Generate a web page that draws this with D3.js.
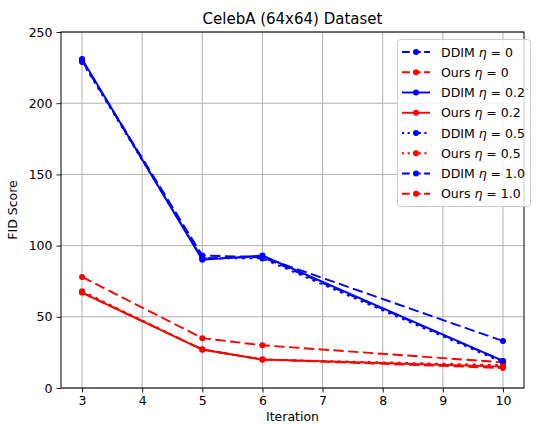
<!DOCTYPE html>
<html><head><meta charset="utf-8">
<script src="https://cdn.jsdelivr.net/npm/d3@7"></script>
<style>body{margin:0;background:#fff}svg{display:block}text{font-family:"DejaVu Sans",sans-serif;fill:#000}</style>
</head><body><svg id="c" width="536" height="426"></svg>
<script>
const iterations = [3, 5, 6, 10];
const ddimEta0   = [230, 93, 92, 33];
const oursEta0   = [78, 35, 30, 18];
const ddimEta02  = [231, 90, 93, 19];
const oursEta02  = [67, 27, 20, 15];
const ddimEta05  = [229, 91, 91, 18];
const oursEta05  = [68, 27, 20, 16];
const ddimEta10  = [230, 91, 92, 19];
const oursEta10  = [67, 27, 20, 14];
const xTicks = [3,4,5,6,7,8,9,10];
const yTicks = [0,50,100,150,200,250];

const series = [
  {name:"DDIM", eta:"0", vals:ddimEta0, color:"blue", dash:"5.5,2.4"},
  {name:"Ours", eta:"0", vals:oursEta0, color:"red", dash:"5.5,2.4"},
  {name:"DDIM", eta:"0.2", vals:ddimEta02, color:"blue", dash:null},
  {name:"Ours", eta:"0.2", vals:oursEta02, color:"red", dash:null},
  {name:"DDIM", eta:"0.5", vals:ddimEta05, color:"blue", dash:"1.5,2.5"},
  {name:"Ours", eta:"0.5", vals:oursEta05, color:"red", dash:"1.5,2.5"},
  {name:"DDIM", eta:"1.0", vals:ddimEta10, color:"blue", dash:"5.5,2.4"},
  {name:"Ours", eta:"1.0", vals:oursEta10, color:"red", dash:"5.5,2.4"}
];

const svg = d3.select("#c");
const L=61, R=524, T=32, B=388;
const x = d3.scaleLinear().domain([2.65,10.35]).range([L,R]);
const y = d3.scaleLinear().domain([0,250]).range([B,T]);

const g = svg.append("g");
g.selectAll(".gx").data(xTicks).enter().append("line")
  .attr("x1",d=>x(d)).attr("x2",d=>x(d)).attr("y1",T).attr("y2",B)
  .attr("stroke","#b0b0b0").attr("stroke-width",1);
g.selectAll(".gy").data(yTicks).enter().append("line")
  .attr("y1",d=>y(d)).attr("y2",d=>y(d)).attr("x1",L).attr("x2",R)
  .attr("stroke","#b0b0b0").attr("stroke-width",1);

const dashArr = s => s.dash ? s.dash.split(",").map(v=>v*1.875).join(",") : null;
const line = d3.line().x((d,i)=>x(iterations[i])).y(d=>y(d));
series.forEach(s=>{
  svg.append("path").datum(s.vals).attr("d",line)
    .attr("fill","none").attr("stroke",s.color).attr("stroke-width",1.9)
    .attr("stroke-dasharray",dashArr(s));
  svg.selectAll(null).data(s.vals).enter().append("circle")
    .attr("cx",(d,i)=>x(iterations[i])).attr("cy",d=>y(d)).attr("r",3)
    .attr("fill",s.color);
});

const ax = svg.append("g").attr("transform",`translate(0,${B})`)
  .call(d3.axisBottom(x).tickValues(xTicks).tickSize(4.5).tickPadding(4));
const ay = svg.append("g").attr("transform",`translate(${L},0)`)
  .call(d3.axisLeft(y).tickValues(yTicks).tickSize(4.5).tickPadding(4));
[ax,ay].forEach(a=>{a.select(".domain").remove();
  a.selectAll("text").style("font-size","12.5px").style("font-family","DejaVu Sans");
  a.selectAll("line").attr("stroke","#000").attr("stroke-width",0.9);});
svg.append("rect").attr("x",L).attr("y",T).attr("width",R-L).attr("height",B-T)
  .attr("fill","none").attr("stroke","#000").attr("stroke-width",1);

svg.append("text").attr("x",(L+R)/2).attr("y",24).attr("text-anchor","middle")
  .style("font-size","15px").text("CelebA (64x64) Dataset");
svg.append("text").attr("x",(L+R)/2).attr("y",421).attr("text-anchor","middle")
  .style("font-size","12.5px").text("Iteration");
svg.append("text").attr("transform",`translate(17,${(T+B)/2}) rotate(-90)`).attr("text-anchor","middle")
  .style("font-size","12.5px").text("FID Score");

const lg = svg.append("g");
lg.append("rect").attr("x",397.5).attr("y",39.5).attr("width",133).attr("height",167).attr("rx",3)
  .attr("fill","#fff").attr("fill-opacity",0.8).attr("stroke","#ccc").attr("stroke-width",1);
series.forEach((s,i)=>{
  const yy = 52 + i*20.25;
  lg.append("line").attr("x1",402).attr("x2",430).attr("y1",yy).attr("y2",yy)
    .attr("stroke",s.color).attr("stroke-width",1.9)
    .attr("stroke-dasharray",s.dash ? s.dash.split(",").map(v=>v*1.4).join(",") : null);
  lg.append("circle").attr("cx",416).attr("cy",yy).attr("r",3).attr("fill",s.color);
  const t = lg.append("text").attr("x",441).attr("y",yy+4.5).style("font-size","12.5px");
  t.append("tspan").text(s.name+" ");
  t.append("tspan").style("font-style","italic").text("η");
  t.append("tspan").text(" = "+s.eta);
});
</script></body></html>
